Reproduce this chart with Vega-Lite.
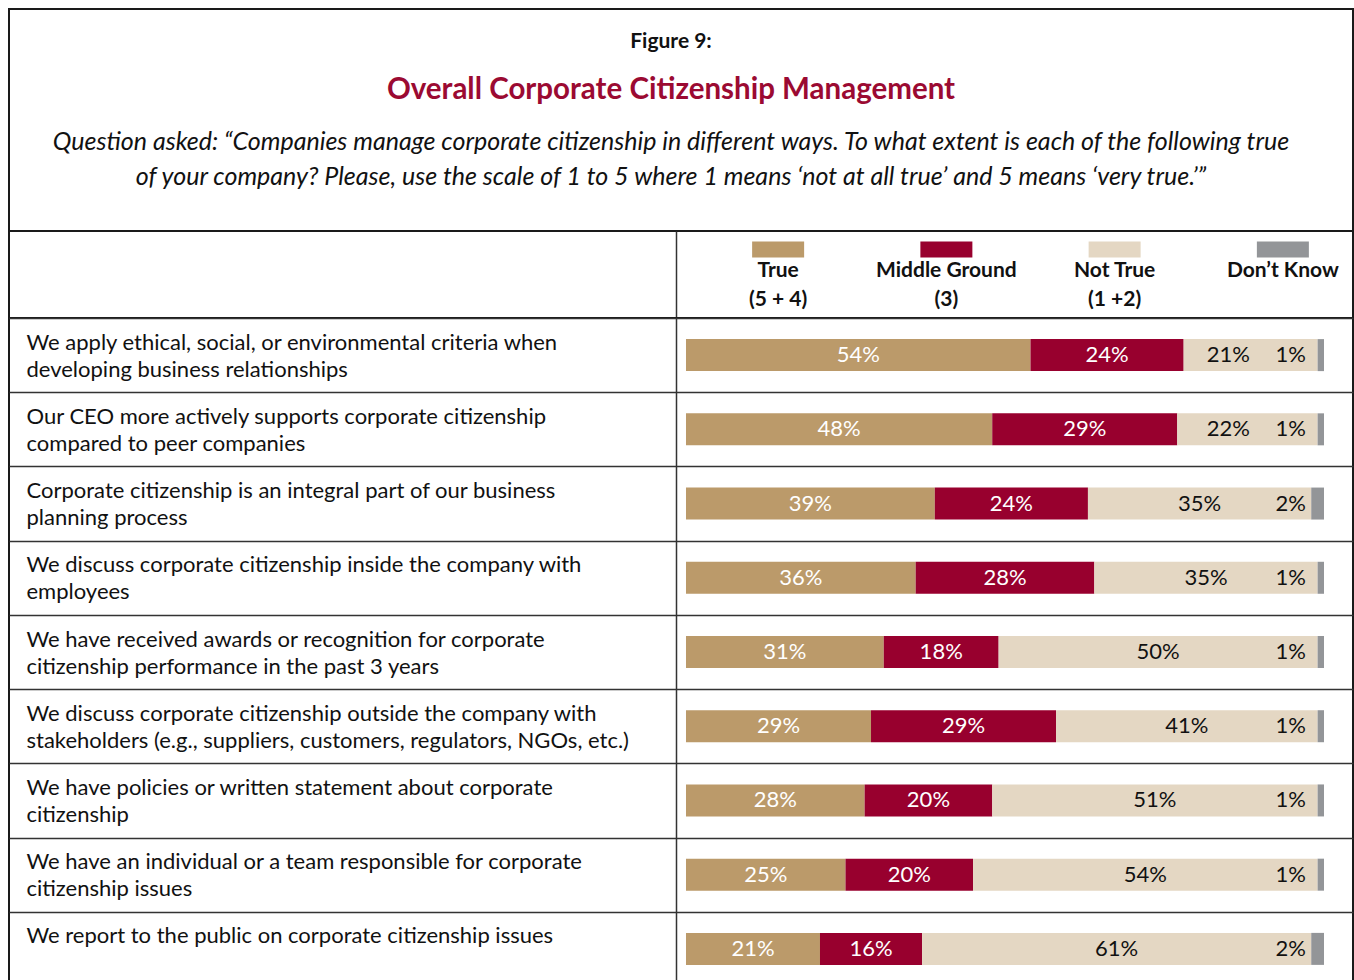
{
  "$schema": "https://vega.github.io/schema/vega-lite/v6.json",
  "padding": {"left": 8, "top": 8, "right": 0, "bottom": 0},
  "autosize": {"type": "pad"},
  "bounds": "flush",
  "spacing": 0,
  "background": "white",
  "config": {"view": {"stroke": "#1a1a1a", "strokeWidth": 2}, "font": "Lato"},
  "datasets": {
    "bars": [
      {"item": "We apply ethical, social, or environmental criteria when|developing business relationships", "cat": "True", "pct": 54},
      {"item": "We apply ethical, social, or environmental criteria when|developing business relationships", "cat": "Middle Ground", "pct": 24},
      {"item": "We apply ethical, social, or environmental criteria when|developing business relationships", "cat": "Not True", "pct": 21},
      {"item": "We apply ethical, social, or environmental criteria when|developing business relationships", "cat": "Don’t Know", "pct": 1},
      {"item": "Our CEO more actively supports corporate citizenship|compared to peer companies", "cat": "True", "pct": 48},
      {"item": "Our CEO more actively supports corporate citizenship|compared to peer companies", "cat": "Middle Ground", "pct": 29},
      {"item": "Our CEO more actively supports corporate citizenship|compared to peer companies", "cat": "Not True", "pct": 22},
      {"item": "Our CEO more actively supports corporate citizenship|compared to peer companies", "cat": "Don’t Know", "pct": 1},
      {"item": "Corporate citizenship is an integral part of our business|planning process", "cat": "True", "pct": 39},
      {"item": "Corporate citizenship is an integral part of our business|planning process", "cat": "Middle Ground", "pct": 24},
      {"item": "Corporate citizenship is an integral part of our business|planning process", "cat": "Not True", "pct": 35},
      {"item": "Corporate citizenship is an integral part of our business|planning process", "cat": "Don’t Know", "pct": 2},
      {"item": "We discuss corporate citizenship inside the company with|employees", "cat": "True", "pct": 36},
      {"item": "We discuss corporate citizenship inside the company with|employees", "cat": "Middle Ground", "pct": 28},
      {"item": "We discuss corporate citizenship inside the company with|employees", "cat": "Not True", "pct": 35},
      {"item": "We discuss corporate citizenship inside the company with|employees", "cat": "Don’t Know", "pct": 1},
      {"item": "We have received awards or recognition for corporate|citizenship performance in the past 3 years", "cat": "True", "pct": 31},
      {"item": "We have received awards or recognition for corporate|citizenship performance in the past 3 years", "cat": "Middle Ground", "pct": 18},
      {"item": "We have received awards or recognition for corporate|citizenship performance in the past 3 years", "cat": "Not True", "pct": 50},
      {"item": "We have received awards or recognition for corporate|citizenship performance in the past 3 years", "cat": "Don’t Know", "pct": 1},
      {"item": "We discuss corporate citizenship outside the company with|stakeholders (e.g., suppliers, customers, regulators, NGOs, etc.)", "cat": "True", "pct": 29},
      {"item": "We discuss corporate citizenship outside the company with|stakeholders (e.g., suppliers, customers, regulators, NGOs, etc.)", "cat": "Middle Ground", "pct": 29},
      {"item": "We discuss corporate citizenship outside the company with|stakeholders (e.g., suppliers, customers, regulators, NGOs, etc.)", "cat": "Not True", "pct": 41},
      {"item": "We discuss corporate citizenship outside the company with|stakeholders (e.g., suppliers, customers, regulators, NGOs, etc.)", "cat": "Don’t Know", "pct": 1},
      {"item": "We have policies or written statement about corporate|citizenship", "cat": "True", "pct": 28},
      {"item": "We have policies or written statement about corporate|citizenship", "cat": "Middle Ground", "pct": 20},
      {"item": "We have policies or written statement about corporate|citizenship", "cat": "Not True", "pct": 51},
      {"item": "We have policies or written statement about corporate|citizenship", "cat": "Don’t Know", "pct": 1},
      {"item": "We have an individual or a team responsible for corporate|citizenship issues", "cat": "True", "pct": 25},
      {"item": "We have an individual or a team responsible for corporate|citizenship issues", "cat": "Middle Ground", "pct": 20},
      {"item": "We have an individual or a team responsible for corporate|citizenship issues", "cat": "Not True", "pct": 54},
      {"item": "We have an individual or a team responsible for corporate|citizenship issues", "cat": "Don’t Know", "pct": 1},
      {"item": "We report to the public on corporate citizenship issues", "cat": "True", "pct": 21},
      {"item": "We report to the public on corporate citizenship issues", "cat": "Middle Ground", "pct": 16},
      {"item": "We report to the public on corporate citizenship issues", "cat": "Not True", "pct": 61},
      {"item": "We report to the public on corporate citizenship issues", "cat": "Don’t Know", "pct": 2}
    ]
  },
  "vconcat": [
    {
      "width": 1344,
      "height": 222,
      "title": {
        "text": "Figure 9:",
        "subtitle": "Overall Corporate Citizenship Management",
        "anchor": "middle",
        "frame": "group",
        "offset": -95,
        "dx": -10,
        "font": "Lato",
        "fontSize": 21,
        "fontWeight": "bold",
        "color": "#111111",
        "subtitleFont": "Lato",
        "subtitleFontSize": 29.5,
        "subtitleFontWeight": "bold",
        "subtitleColor": "#9B0A32",
        "subtitlePadding": 24
      },
      "data": {"values": [
        {"line": "1", "text": "Question asked: “Companies manage corporate citizenship in different ways. To what extent is each of the following true"},
        {"line": "2", "text": "of your company? Please, use the scale of 1 to 5 where 1 means ‘not at all true’ and 5 means ‘very true.’”"}
      ]},
      "mark": {"type": "text", "font": "Lato", "fontSize": 25, "fontStyle": "italic", "color": "#111111", "baseline": "middle", "dx": -10},
      "encoding": {
        "y": {"field": "line", "type": "ordinal", "scale": {"type": "point", "range": [133, 168], "padding": 0}, "axis": null},
        "text": {"field": "text"}
      }
    },
    {
      "width": 1344,
      "height": 87,
      "data": {"values": [
        {"cat": "True", "label": "True|(5 + 4)"},
        {"cat": "Middle Ground", "label": "Middle Ground|(3)"},
        {"cat": "Not True", "label": "Not True|(1 +2)"},
        {"cat": "Don’t Know", "label": "Don’t Know|"}
      ]},
      "encoding": {
        "x": {"field": "cat", "type": "nominal", "sort": null,
          "scale": {"type": "band", "domain": ["True", "Middle Ground", "Not True", "Don’t Know"], "range": [685, 1358], "paddingInner": 0, "paddingOuter": 0},
          "axis": {"title": null, "orient": "bottom", "labels": false, "ticks": false, "domain": false, "grid": false, "minExtent": 0}
        },
        "y": {"datum": "header", "type": "nominal",
          "scale": {"type": "band", "paddingInner": 0, "paddingOuter": 0},
          "axis": {"title": null, "orient": "left", "offset": -667, "labels": false, "ticks": false, "grid": false,
            "domain": true, "domainColor": "#333333", "domainWidth": 1.5, "minExtent": 0}
        }
      },
      "layer": [
        {
          "mark": {"type": "point", "shape": "M-1,-0.3077H1V0.3077H-1Z", "size": 2704, "filled": true, "opacity": 1, "strokeWidth": 0, "yOffset": -25},
          "encoding": {
            "color": {"field": "cat", "type": "nominal",
              "scale": {"domain": ["True", "Middle Ground", "Not True", "Don’t Know"], "range": ["#BB9A6A", "#98002E", "#E4D7C3", "#939598"]},
              "legend": null}
          }
        },
        {
          "mark": {"type": "text", "lineBreak": "|", "font": "Lato", "fontSize": 21, "fontWeight": "bold", "lineHeight": 29, "dy": -3.5, "color": "#111111", "baseline": "middle"},
          "encoding": {"text": {"field": "label"}}
        }
      ]
    },
    {
      "width": 1344,
      "height": 668,
      "data": {"name": "bars"},
      "transform": [
        {"calculate": "indexof(['True', 'Middle Ground', 'Not True', 'Don’t Know'], datum.cat)", "as": "ord"},
        {"stack": "pct", "groupby": ["item"], "sort": [{"field": "ord", "order": "ascending"}], "as": ["x0", "x1"]},
        {"calculate": "datum.cat === 'Not True' ? min((datum.x0 + datum.x1) / 2, datum.x1 - 14) : (datum.x0 + datum.x1) / 2", "as": "mid"},
        {"calculate": "datum.pct + '%'", "as": "lbl"}
      ],
      "layer": [
        {
          "mark": {"type": "bar", "height": 32},
          "encoding": {
            "y": {"field": "item", "type": "nominal",
              "scale": {"type": "band", "paddingInner": 0, "paddingOuter": 0, "domain": [
                "We apply ethical, social, or environmental criteria when|developing business relationships",
                "Our CEO more actively supports corporate citizenship|compared to peer companies",
                "Corporate citizenship is an integral part of our business|planning process",
                "We discuss corporate citizenship inside the company with|employees",
                "We have received awards or recognition for corporate|citizenship performance in the past 3 years",
                "We discuss corporate citizenship outside the company with|stakeholders (e.g., suppliers, customers, regulators, NGOs, etc.)",
                "We have policies or written statement about corporate|citizenship",
                "We have an individual or a team responsible for corporate|citizenship issues",
                "We report to the public on corporate citizenship issues"
              ]},
              "axis": {
                "title": null, "orient": "left", "domain": false, "ticks": false, "tickSize": 0,
                "labelAlign": "left", "labelBaseline": "middle", "labelPadding": -17, "labelOffset": -13, "labelLimit": 0,
                "labelOverlap": false, "labelFont": "Lato", "labelFontSize": 22, "labelColor": "#111111",
                "labelLineHeight": 27, "labelExpr": "split(datum.label, '|')",
                "grid": true, "tickBand": "extent", "gridColor": "#333333", "gridWidth": 1.5, "minExtent": 0
              }
            },
            "x": {"field": "x0", "type": "quantitative", "scale": {"domain": [-106.11, 104.545], "nice": false, "zero": false},
              "axis": {"title": null, "labels": false, "ticks": false, "domain": false, "grid": true, "values": [-1.5674], "gridColor": "#333333", "gridWidth": 1.5, "minExtent": 0}},
            "x2": {"field": "x1"},
            "color": {"field": "cat", "type": "nominal",
              "scale": {"domain": ["True", "Middle Ground", "Not True", "Don’t Know"], "range": ["#BB9A6A", "#98002E", "#E4D7C3", "#939598"]},
              "legend": null}
          }
        },
        {
          "transform": [{"filter": "datum.cat !== 'Don’t Know'"}],
          "mark": {"type": "text", "font": "Lato", "fontSize": 22, "baseline": "middle", "align": "center"},
          "encoding": {
            "y": {"field": "item", "type": "nominal"},
            "x": {"field": "mid", "type": "quantitative"},
            "text": {"field": "lbl"},
            "color": {"condition": {"test": "datum.cat === 'Not True'", "value": "#111111"}, "value": "#ffffff"}
          }
        },
        {
          "transform": [{"filter": "datum.cat === 'Don’t Know'"}],
          "mark": {"type": "text", "font": "Lato", "fontSize": 22, "baseline": "middle", "align": "right", "dx": -18, "color": "#111111"},
          "encoding": {
            "y": {"field": "item", "type": "nominal"},
            "x": {"field": "x1", "type": "quantitative"},
            "text": {"field": "lbl"}
          }
        }
      ]
    }
  ]
}
